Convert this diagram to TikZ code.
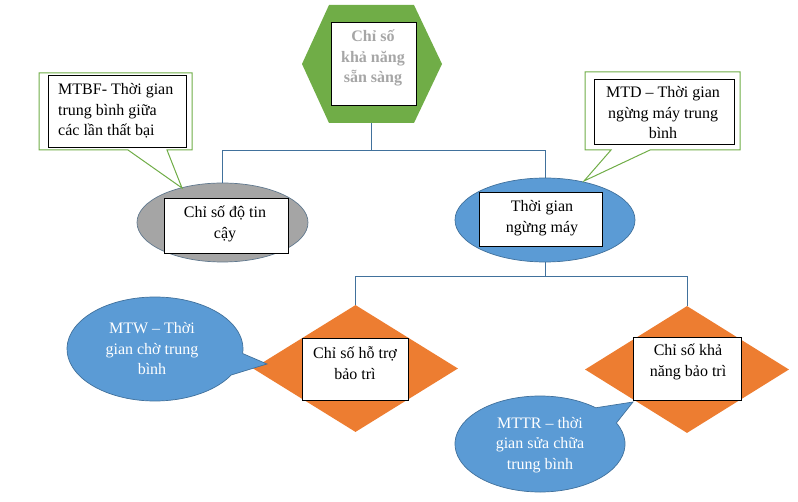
\documentclass[tikz,border=0pt]{standalone}
\usepackage{fontspec}
\setmainfont{Liberation Serif}
\usetikzlibrary{shapes.geometric}
\definecolor{cgreen}{HTML}{70AD47}
\definecolor{cblue}{HTML}{5B9BD5}
\definecolor{cline}{HTML}{41719C}
\definecolor{corange}{HTML}{ED7D31}
\definecolor{cgray}{HTML}{A5A5A5}
\definecolor{htext}{HTML}{A6A6A6}
\newcommand\dgfont{\fontsize{16}{20.5}\selectfont}
\begin{document}
\begin{tikzpicture}[x=1pt,y=-1pt,
  conn/.style={draw=cline, line width=1pt},
  tbox/.style={draw=black, fill=white, line width=0.9pt, inner sep=0pt},
  txt/.style={align=center, font=\dgfont, inner sep=0pt},
  gcall/.style={draw=cgreen, fill=white, line width=1pt, line join=miter},
  bcall/.style={draw=cline, fill=cblue, line width=0.7pt},
  dia/.style={diamond, fill=corange, inner sep=0pt},
  ell/.style={ellipse, inner sep=0pt, line width=0.7pt}
]
\useasboundingbox (0,0) rectangle (798,502);

% hexagon
\fill[cgreen] (329,5) -- (414,5) -- (442,64) -- (414,123) -- (329,123) -- (302,64) -- cycle;
\coordinate (hexbot) at (371,123);
\node[tbox, minimum width=85, minimum height=83] (hexb) at (373.5,63.5) {};
\node[txt, font=\dgfont\bfseries, text=htext] (hext) at (373,58) {Chỉ số\\khả năng\\sẵn sàng};

% ellipses
\node[ell, fill=cgray, draw=cline!50!gray, minimum width=171, minimum height=79] (rel) at (222.5,222.5) {};
\node[ell, fill=cblue, draw=cline, minimum width=180, minimum height=84] (down) at (545,220) {};
\node[tbox, minimum width=124, minimum height=55] (relb) at (226,225.5) {};
\node[txt] (relt) at (225,224) {Chỉ số độ tin\\cậy};
\node[tbox, minimum width=123, minimum height=54] (downb) at (540.5,219) {};
\node[txt] (downt) at (542,218) {Thời gian\\ngừng máy};

% diamonds
\node[dia, minimum width=205, minimum height=127] (supd) at (355.5,368.5) {};
\node[dia, minimum width=204, minimum height=127] (mntd) at (687,369.5) {};
\node[tbox, minimum width=106, minimum height=62] (supb) at (355,369) {};
\node[txt] (supt) at (355,363) {Chỉ số hỗ trợ\\bảo trì};
\node[tbox, minimum width=108, minimum height=63] (mntb) at (687,368.5) {};
\node[txt] (mntt) at (688,362) {Chỉ số khả\\năng bảo trì};

% connectors
\coordinate (j1) at (371,151);
\coordinate (j2) at (545,277);
\draw[conn] (hexbot) -- (j1);
\draw[conn] (j1) -| (rel.north);
\draw[conn] (j1) -| (down.north);
\draw[conn] (down.south) -- (j2);
\draw[conn] (j2) -| (supd.north);
\draw[conn] (j2) -| (mntd.north);

% green callouts
\draw[gcall] (39,73) -- (192,73) -- (192,150) -- (167,150) -- (182,188) -- (128,150) -- (39,150) -- cycle;
\node[tbox, minimum width=138, minimum height=72] (mtbfb) at (117,111) {};
\node[txt, align=left, anchor=west] (mtbft) at (58,111) {MTBF- Thời gian\\trung bình giữa\\các lần thất bại};

\draw[gcall] (585,72) -- (740,72) -- (740,150) -- (650,150) -- (584,181) -- (611,150) -- (585,150) -- cycle;
\node[tbox, minimum width=140, minimum height=65] (mtdb) at (664,111.5) {};
\node[txt] (mtdt) at (663,113) {MTD – Thời gian\\ngừng máy trung\\bình};

% blue callouts
\draw[bcall] (155,349) ++(30:88 and 52) arc[start angle=30, end angle=365, x radius=88, y radius=52] -- (267,364) -- cycle;
\node[txt, text=white] (mtwt) at (152,349) {MTW – Thời\\gian chờ trung\\bình};

\draw[bcall] (540,444) ++(-26:85 and 48) arc[start angle=-26, end angle=311, x radius=85, y radius=48] -- (633,402) -- cycle;
\node[txt, text=white] (mttrt) at (540,445) {MTTR – thời\\gian sửa chữa\\trung bình};
\end{tikzpicture}
\end{document}
